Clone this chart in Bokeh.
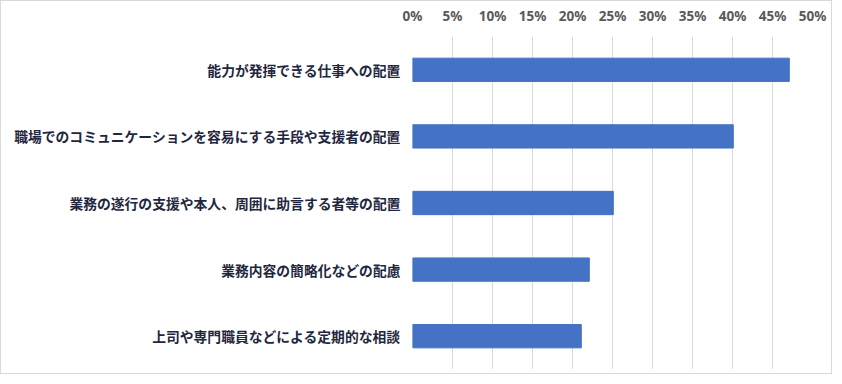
from bokeh.plotting import figure
from bokeh.models import Range1d, FactorRange, FixedTicker, PrintfTickFormatter
from bokeh.embed import file_html
from bokeh.resources import INLINE

categories = [
    "能力が発揮できる仕事への配置",
    "職場でのコミュニケーションを容易にする手段や支援者の配置",
    "業務の遂行の支援や本人、周囲に助言する者等の配置",
    "業務内容の簡略化などの配慮",
    "上司や専門職員などによる定期的な相談",
]
values = [47.1, 40.1, 25.1, 22.1, 21.1]
tick_values = [0, 5, 10, 15, 20, 25, 30, 35, 40, 45, 50]

p = figure(
    width=832, height=374,
    y_range=FactorRange(*list(reversed(categories)), range_padding=0),
    x_range=Range1d(0, 50),
    x_axis_location="above",
    output_backend="svg", toolbar_location=None,
    min_border_left=411, min_border_right=21, min_border_top=35, min_border_bottom=6,
)
p.hbar(y=categories, right=values, left=0, height=0.35, color="#4472C4")

p.outline_line_color = None
p.styles = {"border": "1px solid #d9d9d9"}

xa = p.xaxis[0]
xa.ticker = FixedTicker(ticks=tick_values)
xa.formatter = PrintfTickFormatter(format="%d%%")
xa.axis_line_color = None
xa.major_tick_line_color = None
xa.minor_tick_line_color = None
xa.major_tick_out = 0
xa.major_tick_in = 0
xa.major_label_standoff = 12
xa.major_label_text_font = "Noto Sans"
xa.major_label_text_font_style = "bold"
xa.major_label_text_font_size = "13.5px"
xa.major_label_text_color = "#595959"

ya = p.yaxis[0]
ya.axis_line_color = None
ya.major_tick_line_color = None
ya.minor_tick_line_color = None
ya.major_tick_out = 0
ya.major_tick_in = 0
ya.major_label_standoff = 12
ya.major_label_text_font = "Noto Sans CJK JP"
ya.major_label_text_font_style = "bold"
ya.major_label_text_font_size = "13.8px"
ya.major_label_text_color = "#1f2740"

p.xgrid.grid_line_color = "#d9d9d9"
p.xgrid.grid_line_width = 1
p.ygrid.grid_line_color = None

open("out.html", "w").write(file_html(p, INLINE))
